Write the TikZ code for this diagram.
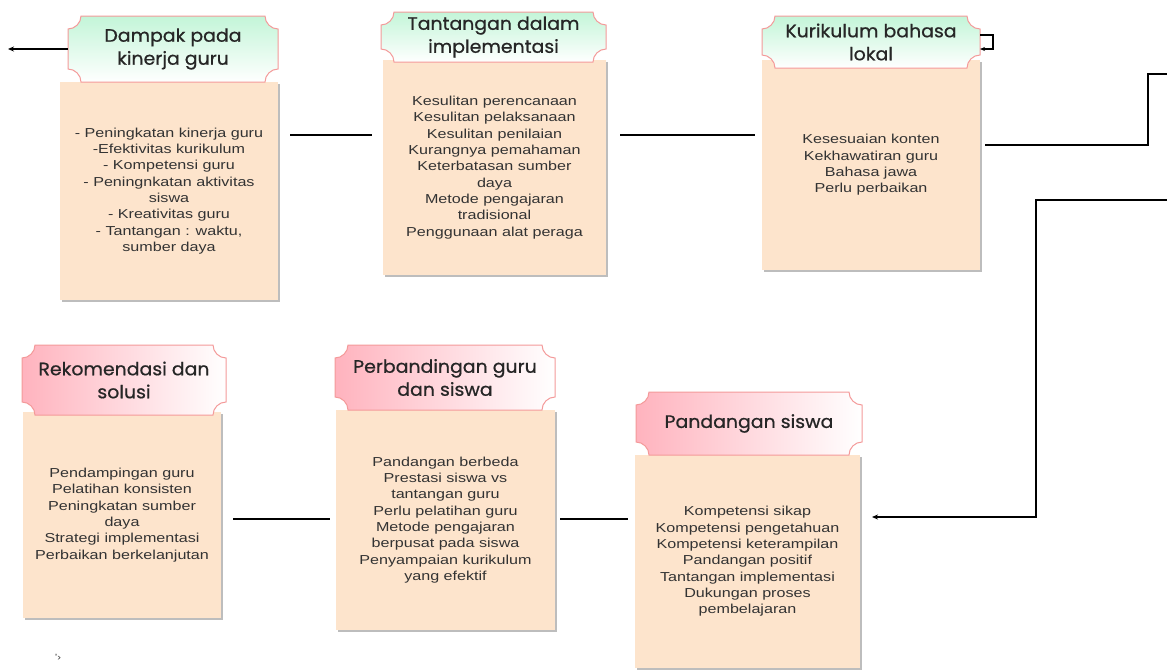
\documentclass[tikz,border=0pt]{standalone}
\usepackage{fontspec}
\setmainfont[FakeStretch=1.24]{Liberation Sans}
\newfontfamily\headfont[FakeStretch=1.05,FakeBold=0.7]{Poppins}
\usetikzlibrary{arrows.meta}
\definecolor{peach}{HTML}{FDE4CC}
\definecolor{mint}{HTML}{C3F5D8}
\definecolor{rosy}{HTML}{FFB3BE}
\definecolor{edgepink}{HTML}{F49A9A}
\definecolor{shadowgray}{HTML}{BDBDBD}
\definecolor{txt}{HTML}{333333}
\tikzset{
  bodybox/.style={fill=peach, draw=none, inner sep=0pt, align=center, text=txt,
    font=\fontsize{13}{16.3}\selectfont,
    preaction={fill=shadowgray, transform canvas={xshift=2pt,yshift=-2pt}}},
  headtext/.style={font=\headfont\fontsize{18}{23}\selectfont, text=black!85,
    align=center, inner sep=0pt},
  topshade/.style={top color=mint, bottom color=white, draw=edgepink, line width=1pt},
  lowshade/.style={left color=rosy, right color=white, draw=edgepink, line width=1pt},
  conn/.style={draw=black, line width=1.4pt},
  arr/.style={conn, -{Stealth[length=6pt,width=5pt]}},
}
\newcommand\plaque[5]{%
\path[#5] ({#1+13},#2) -- ({#3-13},#2)
 .. controls ({#3-13},{#2+7}) and ({#3-7},{#2+13}) .. (#3,{#2+13})
 -- (#3,{#4-13})
 .. controls ({#3-7},{#4-13}) and ({#3-13},{#4-7}) .. ({#3-13},#4)
 -- ({#1+13},#4)
 .. controls ({#1+13},{#4-7}) and ({#1+7},{#4-13}) .. (#1,{#4-13})
 -- (#1,{#2+13})
 .. controls ({#1+7},{#2+13}) and ({#1+13},{#2+7}) .. ({#1+13},#2) -- cycle;}
\newcommand\headerbox[7]{%
\plaque{#2}{#3}{#4}{#5}{#6}
\pgfmathsetmacro\hbw{#4-#2}\pgfmathsetmacro\hbh{#5-#3}
\node[headtext, minimum width=\hbw pt, minimum height=\hbh pt] (#1) at ({(#2+#4)/2},{(#3+#5)/2}) {#7};}
\newcommand\bodynode[6]{%
\pgfmathsetmacro\bbw{#4-#2}\pgfmathsetmacro\bbh{#5-#3}
\node[bodybox, minimum width=\bbw pt, minimum height=\bbh pt] (#1) at ({(#2+#4)/2},{(#3+#5)/2}) {#6};}
\begin{document}
\begin{tikzpicture}[x=1pt,y=-1pt]
\useasboundingbox[fill=white] (0,0) rectangle (1167,670);
% bodies
\bodynode{b1}{60}{82}{278}{300}{- Peningkatan kinerja guru\\ -Efektivitas kurikulum\\ - Kompetensi guru\\ - Peningnkatan aktivitas\\ siswa\\ - Kreativitas guru\\ - Tantangan : waktu,\\ sumber daya}
\bodynode{b2}{383}{60}{606}{275}{Kesulitan perencanaan\\Kesulitan pelaksanaan\\Kesulitan penilaian\\Kurangnya pemahaman\\Keterbatasan sumber\\daya\\Metode pengajaran\\tradisional\\Penggunaan alat peraga}
\bodynode{b3}{762}{60}{980}{270}{Kesesuaian konten\\Kekhawatiran guru\\Bahasa jawa\\Perlu perbaikan}
\bodynode{b4}{23}{412}{221}{618}{Pendampingan guru\\Pelatihan konsisten\\Peningkatan sumber\\daya\\Strategi implementasi\\Perbaikan berkelanjutan}
\bodynode{b5}{336}{410}{555}{630}{Pandangan berbeda\\Prestasi siswa vs\\tantangan guru\\Perlu pelatihan guru\\Metode pengajaran\\berpusat pada siswa\\Penyampaian kurikulum\\yang efektif}
\bodynode{b6}{635}{455}{860}{668}{Kompetensi sikap\\Kompetensi pengetahuan\\Kompetensi keterampilan\\Pandangan positif\\Tantangan implementasi\\Dukungan proses\\pembelajaran}
% headers
\headerbox{h1}{68}{16}{278}{82}{topshade}{Dampak pada\\kinerja guru}
\headerbox{h2}{381}{12}{606}{62}{topshade}{Tantangan dalam\\implementasi}
\headerbox{h3}{762}{16}{980}{68}{topshade}{Kurikulum bahasa\\lokal}
\headerbox{h4}{22}{345}{226}{415}{lowshade}{Rekomendasi dan\\solusi}
\headerbox{h5}{335}{345}{555}{410}{lowshade}{Perbandingan guru\\dan siswa}
\headerbox{h6}{636}{392}{862}{455}{lowshade}{Pandangan siswa}
% connector ends
\coordinate (e1) at (8,49);
\coordinate (l1a) at (290,135); \coordinate (l1b) at (372,135);
\coordinate (l2a) at (620,135); \coordinate (l2b) at (755,135);
\coordinate (k1) at (985,145); \coordinate (k2) at (1148,145);
\coordinate (k3) at (1148,74); \coordinate (k4) at (1167,74);
\coordinate (p1) at (1167,200); \coordinate (p2) at (1036,200);
\coordinate (p3) at (1036,517); \coordinate (p4) at (872,517);
\coordinate (s1) at (980,35); \coordinate (s2) at (993,35);
\coordinate (s3) at (993,49); \coordinate (s4) at (980,49);
\coordinate (l3a) at (233,519); \coordinate (l3b) at (330,519);
\coordinate (l4a) at (560,519); \coordinate (l4b) at (628,519);
% connectors
\draw[arr] (h1.west) -- (e1);
\draw[conn] (l1a) -- (l1b);
\draw[conn] (l2a) -- (l2b);
\draw[conn] (k1) -- (k2) -- (k3) -- (k4);
\draw[arr] (p1) -- (p2) -- (p3) -- (p4);
\draw[arr, line width=1.2pt, -{Stealth[length=5pt,width=4pt]}] (s1) -- (s2) -- (s3) -- (s4);
\draw[conn] (l3a) -- (l3b);
\draw[conn] (l4a) -- (l4b);
\node[font=\fontsize{9}{9}\selectfont, text=black!80, inner sep=0pt] (mark) at (58,657) {'›};
\end{tikzpicture}
\end{document}
